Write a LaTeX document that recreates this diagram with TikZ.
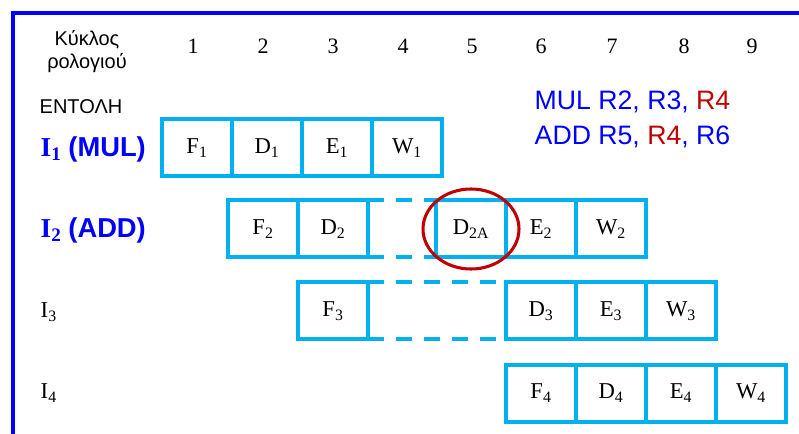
\documentclass[tikz,border=0pt]{standalone}
\usepackage{fontspec}
\setmainfont{Liberation Serif}
\setsansfont{Liberation Sans}
\definecolor{cellblue}{RGB}{0,176,240}
\definecolor{textblue}{RGB}{0,0,255}
\definecolor{hazardred}{RGB}{192,0,0}
\tikzset{
  stage/.style={draw=cellblue, line width=3pt, outer sep=0pt, inner sep=0pt,
    minimum width=52.5pt, minimum height=42.75pt, font=\fontsize{17}{19}\selectfont},
  stall/.style={draw=cellblue, line width=3pt, dash pattern=on 12pt off 9pt},
  cyclenum/.style={font=\fontsize{16.5}{18}\selectfont},
  head/.style={font=\sffamily\fontsize{15}{17}\selectfont},
  instr/.style={anchor=west, font=\fontsize{17}{19}\selectfont},
  hotinstr/.style={anchor=west, text=textblue, font=\bfseries\fontsize{20.5}{24}\selectfont},
  asm/.style={anchor=west, text=textblue, font=\sffamily\fontsize{20}{23}\selectfont}
}
\begin{document}
\begin{tikzpicture}[x=0.75pt,y=-0.75pt]
\useasboundingbox (0,0) rectangle (799,434);
% frame
\draw[textblue, line width=2.5pt] (13,434) -- (13,13) -- (799,13);
% header
\node[head] (clk1) at (87,40) {Κύκλος};
\node[head] (clk2) at (87,63) {ρολογιού};
\foreach \c/\x in {1/193,2/263,3/333,4/403,5/472,6/541,7/612,8/684,9/752}
  \node[cyclenum] (cyc\c) at (\x,46) {\c};
\node[head, anchor=west] (entoli) at (35,107) {ΕΝΤΟΛΗ};
% instructions
\node[hotinstr] (I1) at (36,149) {I\textsubscript{1} \sffamily(MUL)};
\node[hotinstr] (I2) at (36,230) {I\textsubscript{2} \sffamily(ADD)};
\node[instr] (I3) at (36,312) {I\textsubscript{3}};
\node[instr] (I4) at (36,393) {I\textsubscript{4}};
\node[asm] (mul) at (530,102) {MUL R2, R3, \textcolor{hazardred}{R4}};
\node[asm] (add) at (530,137) {ADD R5, \textcolor{hazardred}{R4}, R6};
% pipeline stages
\node[stage] (F1) at (197,148) {F\textsubscript{1}};
\node[stage] (D1) at (267,148) {D\textsubscript{1}};
\node[stage] (E1) at (337,148) {E\textsubscript{1}};
\node[stage] (W1) at (407,148) {W\textsubscript{1}};
\node[stage] (F2) at (263,229) {F\textsubscript{2}};
\node[stage] (D2) at (333,229) {D\textsubscript{2}};
\node[stage] (D2A) at (471,229) {D\textsubscript{2A}};
\node[stage] (E2) at (541,229) {E\textsubscript{2}};
\node[stage] (W2) at (611,229) {W\textsubscript{2}};
\node[stage] (F3) at (333,311) {F\textsubscript{3}};
\node[stage] (D3) at (541,311) {D\textsubscript{3}};
\node[stage] (E3) at (611,311) {E\textsubscript{3}};
\node[stage] (W3) at (681,311) {W\textsubscript{3}};
\node[stage] (F4) at (541,393) {F\textsubscript{4}};
\node[stage] (D4) at (611,393) {D\textsubscript{4}};
\node[stage] (E4) at (681,393) {E\textsubscript{4}};
\node[stage] (W4) at (751,393) {W\textsubscript{4}};
% stalls
\draw[stall] (D2.north east) -- (D2A.north west);
\draw[stall] (D2.south east) -- (D2A.south west);
\draw[stall] (F3.north east) -- (D3.north west);
\draw[stall] (F3.south east) -- (D3.south west);
% hazard
\draw[hazardred, line width=2.3pt] (D2A.center) ellipse [x radius=36pt, y radius=30pt];
\end{tikzpicture}
\end{document}
